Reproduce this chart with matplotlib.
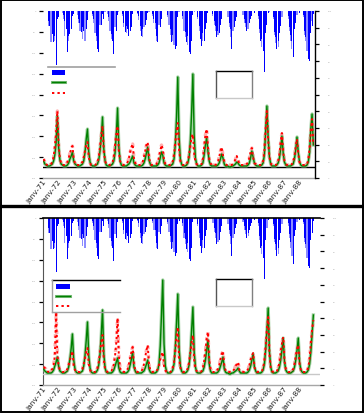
import numpy as np
import pandas as pd
import matplotlib
matplotlib.use("Agg")
import matplotlib.pyplot as plt
import matplotlib.dates as mdates
from matplotlib.lines import Line2D
from matplotlib.patches import Rectangle
from matplotlib.transforms import Affine2D

# ---------------- data (monthly, Jan 1971 - Dec 1988) ----------------
months = pd.date_range("1971-01-01", periods=216, freq="MS") + pd.Timedelta(days=14)
tick_years = list(range(1971, 1989))
tick_labels = ["janv-%02d" % (y % 100) for y in tick_years]
legend_labels = ["Pluie", "Débit observé", "Débit simulé"]

# rainfall (dark series) -- shared by both panels
rain_a = [
    [0, 0, 0, 0, 10, 15, 20, 23, 31, 25, 54, 8],
    [6, 0, 0, 0, 4, 10, 18, 41, 25, 23, 18, 5],
    [3, 0, 0, 0, 8, 12, 21, 16, 20, 45, 18, 9],
    [0, 0, 0, 3, 8, 16, 25, 38, 41, 22, 14, 3],
    [8, 0, 0, 0, 6, 15, 23, 30, 43, 23, 20, 4],
    [0, 0, 0, 3, 12, 21, 15, 18, 25, 20, 16, 3],
    [0, 0, 0, 2, 5, 15, 25, 18, 22, 14, 9, 2],
    [0, 0, 0, 3, 8, 12, 25, 31, 20, 16, 8, 0],
    [0, 0, 0, 4, 10, 18, 31, 24, 28, 38, 35, 6],
    [3, 0, 0, 5, 15, 21, 31, 25, 41, 43, 30, 4],
    [0, 0, 0, 6, 15, 28, 35, 22, 30, 18, 12, 2],
    [0, 0, 0, 3, 10, 15, 26, 20, 22, 14, 8, 0],
    [0, 0, 0, 4, 12, 18, 38, 30, 16, 10, 6, 0],
    [0, 0, 0, 2, 8, 12, 20, 15, 12, 8, 5, 0],
    [2, 0, 0, 5, 18, 30, 28, 40, 61, 22, 14, 2],
    [0, 0, 0, 6, 21, 26, 38, 30, 22, 15, 9, 0],
    [0, 0, 0, 5, 16, 24, 30, 46, 18, 12, 7, 0],
    [2, 0, 0, 4, 20, 26, 30, 48, 50, 22, 15, 3],
]
# rainfall (light series)
rain_b = [
    [0, 0, 0, 0, 15, 8, 31, 18, 22, 30, 12, 4],
    [3, 0, 0, 2, 8, 25, 14, 20, 30, 12, 8, 2],
    [1, 0, 0, 4, 12, 20, 10, 28, 18, 30, 10, 4],
    [1, 0, 0, 5, 12, 22, 30, 20, 26, 14, 8, 2],
    [4, 1, 0, 3, 10, 20, 28, 18, 26, 16, 10, 2],
    [1, 0, 0, 5, 16, 14, 22, 12, 20, 14, 8, 1],
    [0, 0, 0, 3, 9, 20, 14, 26, 16, 10, 4, 1],
    [1, 0, 0, 5, 12, 18, 30, 20, 14, 10, 4, 0],
    [0, 0, 0, 6, 14, 24, 20, 30, 34, 26, 18, 3],
    [1, 0, 0, 8, 20, 26, 22, 34, 30, 36, 20, 2],
    [1, 0, 0, 8, 20, 22, 28, 30, 20, 14, 8, 1],
    [0, 0, 0, 5, 14, 20, 18, 24, 16, 10, 4, 0],
    [0, 0, 0, 6, 16, 26, 30, 20, 12, 8, 3, 0],
    [0, 0, 0, 4, 12, 16, 14, 18, 10, 6, 2, 0],
    [1, 0, 0, 8, 22, 26, 36, 30, 40, 18, 10, 1],
    [1, 0, 0, 8, 24, 32, 28, 36, 18, 12, 6, 0],
    [0, 0, 0, 8, 20, 30, 38, 28, 14, 10, 4, 0],
    [1, 0, 0, 6, 24, 30, 40, 36, 38, 18, 10, 1],
]

# top panel: observed (green) and simulated (red) flows
obs_top = [
    [6, 3, 2, 1, 1, 1, 2, 3, 6, 12, 24, 51],
    [20, 7, 3, 2, 1, 1, 1, 2, 4, 8, 11, 15],
    [6, 3, 2, 1, 1, 1, 2, 3, 6, 14, 28, 38],
    [15, 5, 2, 1, 1, 1, 2, 3, 7, 16, 30, 50],
    [18, 6, 2, 1, 1, 1, 2, 3, 6, 14, 33, 59],
    [20, 6, 2, 1, 1, 1, 1, 2, 3, 5, 8, 11],
    [4, 2, 1, 1, 1, 1, 1, 2, 4, 8, 14, 20],
    [7, 3, 1, 1, 1, 1, 1, 2, 4, 9, 15, 12],
    [4, 2, 1, 1, 1, 1, 2, 3, 8, 22, 50, 90],
    [30, 8, 3, 1, 1, 1, 2, 4, 10, 26, 55, 93],
    [32, 9, 3, 1, 1, 1, 2, 4, 12, 22, 29, 16],
    [6, 2, 1, 1, 1, 1, 1, 2, 4, 8, 13, 9],
    [3, 1, 1, 1, 0, 0, 1, 1, 2, 3, 5, 4],
    [2, 1, 1, 1, 1, 1, 1, 2, 4, 9, 16, 10],
    [4, 2, 1, 1, 1, 1, 2, 4, 12, 35, 61, 30],
    [10, 3, 1, 1, 1, 1, 2, 4, 9, 18, 31, 14],
    [5, 2, 1, 1, 1, 1, 2, 3, 8, 17, 30, 15],
    [5, 2, 1, 1, 1, 1, 2, 5, 14, 38, 53, 22],
]
sim_top = [
    [8, 5, 3, 2, 2, 2, 3, 5, 10, 20, 35, 56],
    [22, 8, 4, 2, 2, 2, 3, 5, 9, 14, 18, 21],
    [8, 4, 2, 2, 2, 2, 3, 5, 10, 16, 22, 25],
    [10, 4, 2, 2, 2, 2, 3, 5, 10, 20, 32, 41],
    [16, 6, 3, 2, 2, 2, 3, 5, 10, 22, 33, 41],
    [16, 6, 3, 2, 2, 2, 3, 5, 9, 15, 20, 23],
    [9, 4, 2, 2, 2, 2, 3, 5, 10, 16, 22, 25],
    [10, 4, 2, 2, 2, 2, 3, 5, 10, 16, 22, 18],
    [7, 3, 2, 2, 2, 2, 3, 6, 12, 24, 36, 44],
    [18, 6, 3, 2, 2, 2, 3, 6, 12, 22, 30, 33],
    [14, 5, 3, 2, 2, 2, 3, 8, 20, 32, 38, 20],
    [8, 4, 2, 2, 2, 2, 3, 5, 10, 16, 20, 12],
    [5, 3, 2, 2, 2, 2, 2, 3, 5, 8, 11, 7],
    [3, 2, 2, 2, 2, 2, 3, 5, 9, 15, 19, 10],
    [4, 3, 2, 2, 2, 2, 3, 6, 16, 38, 56, 28],
    [10, 4, 2, 2, 2, 2, 3, 6, 13, 25, 34, 15],
    [6, 3, 2, 2, 2, 2, 3, 5, 11, 20, 28, 14],
    [5, 3, 2, 2, 2, 2, 3, 7, 18, 36, 48, 22],
]
# bottom panel
obs_bot = [
    [5, 3, 2, 1, 1, 1, 1, 2, 4, 8, 12, 17],
    [8, 3, 2, 1, 1, 1, 2, 3, 7, 15, 26, 40],
    [14, 5, 2, 1, 1, 1, 2, 3, 8, 18, 34, 52],
    [18, 6, 2, 1, 1, 1, 2, 4, 9, 20, 40, 64],
    [20, 6, 2, 1, 1, 1, 1, 2, 4, 8, 12, 16],
    [6, 2, 1, 1, 1, 1, 1, 2, 4, 9, 15, 22],
    [7, 3, 1, 1, 1, 1, 1, 2, 3, 6, 10, 14],
    [5, 2, 1, 1, 1, 1, 2, 4, 10, 28, 60, 94],
    [30, 8, 3, 1, 1, 1, 2, 4, 10, 26, 52, 80],
    [26, 8, 3, 1, 1, 1, 2, 4, 9, 22, 44, 67],
    [22, 7, 2, 1, 1, 1, 2, 3, 7, 14, 24, 34],
    [10, 3, 1, 1, 1, 1, 1, 2, 4, 8, 12, 17],
    [5, 2, 1, 1, 0, 0, 1, 1, 2, 3, 4, 6],
    [3, 1, 1, 1, 1, 1, 1, 2, 4, 8, 14, 20],
    [7, 3, 1, 1, 1, 1, 2, 4, 10, 24, 44, 66],
    [22, 7, 2, 1, 1, 1, 2, 3, 7, 14, 24, 36],
    [12, 4, 2, 1, 1, 1, 2, 3, 7, 14, 24, 36],
    [12, 4, 2, 1, 1, 1, 2, 4, 10, 22, 40, 59],
]
sim_bot = [
    [7, 6, 5, 3, 2, 2, 3, 5, 9, 18, 62, 20],
    [8, 4, 3, 2, 2, 2, 3, 5, 9, 14, 19, 23],
    [9, 4, 2, 2, 2, 2, 3, 5, 10, 16, 22, 26],
    [10, 4, 2, 2, 2, 2, 3, 6, 12, 22, 32, 39],
    [14, 5, 3, 2, 2, 2, 3, 5, 10, 18, 32, 56],
    [18, 6, 3, 2, 2, 2, 3, 5, 10, 16, 22, 27],
    [10, 4, 2, 2, 2, 2, 3, 5, 10, 17, 24, 29],
    [10, 4, 2, 2, 2, 2, 3, 5, 9, 15, 19, 22],
    [8, 4, 2, 2, 2, 2, 3, 6, 12, 24, 38, 47],
    [16, 6, 3, 2, 2, 2, 3, 6, 12, 22, 32, 39],
    [14, 5, 3, 2, 2, 2, 3, 6, 13, 24, 35, 42],
    [14, 5, 3, 2, 2, 2, 3, 5, 9, 15, 20, 23],
    [8, 4, 2, 2, 2, 2, 2, 3, 5, 8, 10, 12],
    [4, 3, 2, 2, 2, 2, 3, 5, 9, 14, 18, 21],
    [7, 3, 2, 2, 2, 2, 3, 6, 14, 28, 45, 57],
    [20, 6, 3, 2, 2, 2, 3, 6, 12, 22, 31, 37],
    [13, 5, 3, 2, 2, 2, 3, 5, 10, 18, 25, 29],
    [10, 4, 2, 2, 2, 2, 3, 7, 16, 30, 45, 54],
]

# ---------------- figure ----------------
W, H = 364, 414
fig = plt.figure(figsize=(W / 100, H / 100), dpi=100)
px = Affine2D().scale(1 / W, -1 / H).translate(0, 1) + fig.transFigure

GREEN = "#008000"
RED = "#FF0000"
BLUE = "#0000FF"
LBLUE = "#8C8CFF"


def panel(left, right, top, bottom, xmax, obs, sim, zero_col, left_spine):
    ax = fig.add_axes([left / W, 1 - bottom / H, (right - left) / W, (bottom - top) / H])
    axl = ax.twinx()
    x = mdates.date2num(months.to_pydatetime())
    # bars on the main (left) axis, hanging from the top
    ax.bar(x, np.ravel(rain_b), width=28, color=LBLUE, linewidth=0)
    ax.bar(x, np.ravel(rain_a), width=21, color=BLUE, linewidth=0)
    ax.set_ylim(167, 0)
    ax.set_yticks(np.linspace(0, 167, 9))
    ax.set_yticklabels(["%d" % v for v in np.linspace(0, 400, 9)])
    # flows on the right axis
    axl.axhline(0, color=zero_col, lw=1.0, zorder=1)
    axl.plot(x, np.ravel(obs), color="#7FBF7F", lw=2.4, alpha=0.7, zorder=2)
    axl.plot(x, np.ravel(sim), color="#FF9A9A", lw=2.4, ls=":", alpha=0.8, zorder=2)
    axl.plot(x, np.ravel(obs), color=GREEN, lw=1.0, zorder=3)
    axl.plot(x, np.ravel(sim), color=RED, lw=1.4, ls=(0, (1.2, 1.6)), zorder=4)
    axl.set_ylim(-11, 156)
    axl.set_yticks(np.linspace(-11, 156, 11))
    axl.set_yticklabels(["%d" % v for v in np.linspace(0, 100, 11)])
    ax.set_xlim(mdates.date2num(pd.Timestamp("1971-01-01")), mdates.date2num(pd.Timestamp(xmax)))
    ax.set_xticks(mdates.date2num([pd.Timestamp("%d-01-01" % y) for y in tick_years]))
    ax.set_xticklabels(tick_labels, rotation=52, ha="right", va="top",
                       rotation_mode="anchor", fontsize=5.4, color="#222222")
    ax.tick_params(axis="x", length=0, pad=0)
    ax.tick_params(axis="y", length=3, width=0.9, color="#000000", labelsize=1.5,
                   labelcolor="#aaaaaa", pad=2)
    axl.tick_params(axis="y", length=3, width=0.9, color="#000000", labelsize=1.5,
                    labelcolor="#aaaaaa", pad=6)
    for a in (ax, axl):
        a.set_facecolor("none")
        for s in a.spines.values():
            s.set_visible(False)
    ax.spines["bottom"].set_visible(True)
    ax.spines["bottom"].set_color("#A6A6A6")
    ax.spines["bottom"].set_linewidth(1.0)
    if left_spine:
        ax.spines["left"].set_visible(True)
        ax.spines["left"].set_color("#555555")
        ax.spines["top"].set_visible(True)
        ax.spines["top"].set_color("#000000")
        ax.spines["top"].set_linewidth(1.2)
    else:
        axl.spines["right"].set_visible(True)
        axl.spines["right"].set_color("#000000")
        axl.spines["right"].set_linewidth(1.0)
    return ax, axl


panel(43, 315, 12, 179, "1989-01-25", obs_top, sim_top, "#000000", False)
panel(43, 320, 219, 386, "1989-05-25", obs_bot, sim_bot, "#C8C8C8", True)


def seg(x0, y0, x1, y1, **kw):
    fig.add_artist(Line2D([x0, x1], [y0, y1], transform=px, **kw))


# legends
def legend(x0, y0, dy, hx0, hx1, box):
    if box:
        seg(x0, y0, x0 + 68, y0, color="#000000", lw=1.0)
        seg(x0, y0, x0, y0 + 32, color="#A0A0A0", lw=1.0)
        seg(x0, y0 + 32, x0 + 68, y0 + 32, color="#A0A0A0", lw=1.0)
    else:
        seg(x0, y0, x0 + 67, y0, color="#A0A0A0", lw=1.2)
    ys = [y0 + dy[0], y0 + dy[1], y0 + dy[2]]
    fig.add_artist(Rectangle((hx0, ys[0] - 2.5), hx1 - hx0, 5, transform=px,
                             facecolor=BLUE, edgecolor="none"))
    seg(hx0, ys[1], hx1, ys[1], color="#7FBF7F", lw=2.2)
    seg(hx0, ys[1], hx1, ys[1], color=GREEN, lw=1.0)
    seg(hx0, ys[2], hx1, ys[2], color=RED, lw=1.4, ls=(0, (1.2, 1.6)))
    for lab, yy in zip(legend_labels, ys):
        fig.text((hx1 + 4) / W, 1 - yy / H, lab, fontsize=5, color="white", va="center")


legend(48, 68, (5.5, 15, 26), 52, 65, False)
legend(52, 281, (6, 16, 26), 56, 70, True)


# empty text boxes
def ebox(x0, y0, x1, y1):
    seg(x0, y0, x1, y0, color="#000000", lw=1.0)
    seg(x0, y0, x0, y1, color="#555555", lw=1.0)
    seg(x1, y0, x1, y1, color="#808080", lw=1.0)
    seg(x0, y1, x1, y1, color="#C8C8C8", lw=1.0)


ebox(216, 72, 252, 99)
ebox(216, 280, 252, 307)

# panel frames
fig.add_artist(Rectangle((0.7, 0.7), W - 1.6, 206, transform=px, fill=False,
                         edgecolor="black", lw=1.4))
fig.add_artist(Rectangle((0.7, 207.5), W - 1.6, H - 208.4, transform=px, fill=False,
                         edgecolor="black", lw=1.4))
seg(0, 207, W, 207, color="black", lw=2.4)

fig.savefig("out.png", dpi=100)
